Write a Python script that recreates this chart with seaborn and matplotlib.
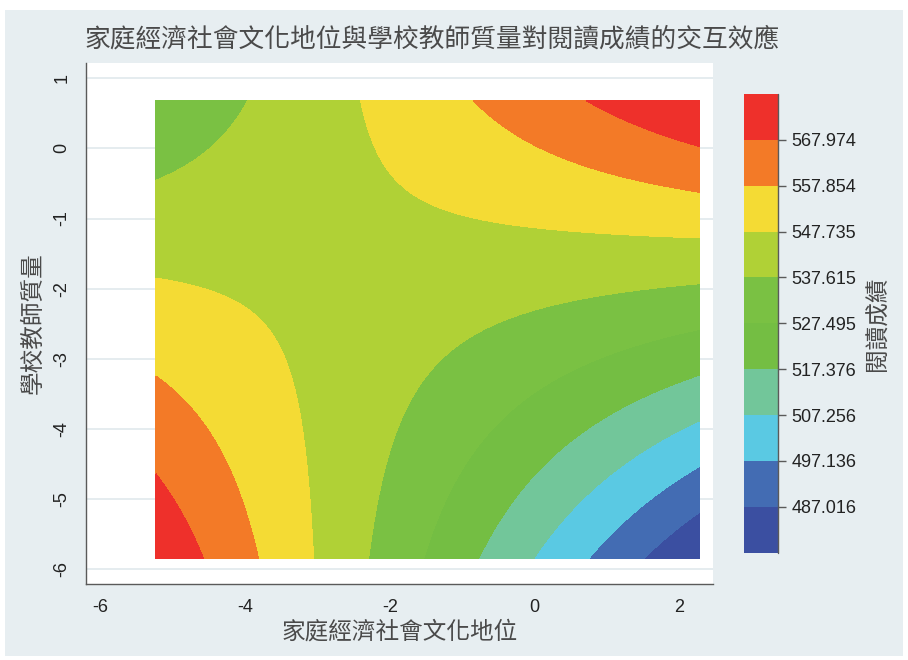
import numpy as np
import matplotlib
matplotlib.use("Agg")
import matplotlib.pyplot as plt
import seaborn as sns
from matplotlib.patches import Rectangle

# ---------------- data ----------------
title = "家庭經濟社會文化地位與學校教師質量對閱讀成績的交互效應"
x_label = "家庭經濟社會文化地位"
y_label = "學校教師質量"
cbar_label = "閱讀成績"

ses_range = [-5.236, 2.278]      # extent of the predicted surface on x
tq_range = [-5.847, 0.680]       # extent of the predicted surface on y
# predicted reading score at the four corners of the surface
score_bottom = [576.70, 476.90]  # (x min, x max) at y min
score_top = [529.40, 578.09]     # (x min, x max) at y max
score_min, score_max = 476.897, 578.093
level_ticks = [487.016, 497.136, 507.256, 517.376, 527.495,
               537.615, 547.735, 557.854, 567.974]
x_ticks = [-6, -4, -2, 0, 2]
y_ticks = [1, 0, -1, -2, -3, -4, -5, -6]
level_colors = ["#3B4FA1", "#436CB3", "#5AC9E3", "#72C69A", "#74BE43",
                "#7AC143", "#B0D136", "#F4DB34", "#F37A27", "#EE302B"]

# ---------------- style ----------------
sns.set_theme(style="white")
plt.rcParams['font.family'] = ['Liberation Sans', 'Noto Sans CJK TC', 'DejaVu Sans']
cjk = ['Noto Sans CJK TC', 'DejaVu Sans']

W, H = 908, 660
fig = plt.figure(figsize=(W / 100, H / 100), dpi=100)
fig.patch.set_facecolor("white")
bg = "#E7EEF1"
fig.patches.append(Rectangle((5 / W, 4 / H), (W - 10) / W, (H - 14) / H,
                             transform=fig.transFigure, facecolor=bg,
                             edgecolor="none", zorder=-10))

ax = fig.add_axes([86 / W, 1 - 584 / H, (712.7 - 86) / W, (584 - 63.3) / H])
ax.set_facecolor("white")

# surface of predicted scores (bilinear in the two predictors: interaction model)
xs = np.linspace(ses_range[0], ses_range[1], 301)
ys = np.linspace(tq_range[0], tq_range[1], 301)
X, Y = np.meshgrid(xs, ys)
u = (X - ses_range[0]) / (ses_range[1] - ses_range[0])
v = (Y - tq_range[0]) / (tq_range[1] - tq_range[0])
Z = ((1 - u) * (1 - v) * score_bottom[0] + u * (1 - v) * score_bottom[1]
     + (1 - u) * v * score_top[0] + u * v * score_top[1])

levels = [score_min] + level_ticks + [score_max]
cf = ax.contourf(X, Y, Z, levels=levels,
                 colors=sns.color_palette(level_colors), zorder=2)

ax.set_xlim(-6.204, 2.465)
ax.set_ylim(-6.214, 1.214)
ax.set_xticks(x_ticks)
ax.set_yticks(y_ticks)
ax.set_xticklabels([str(t) for t in x_ticks])
ax.set_yticklabels([str(t) for t in y_ticks], rotation=90, va="center")
ax.yaxis.grid(True, color="#E3EBEE", lw=1.3, zorder=0)
ax.xaxis.grid(False)
ax.set_axisbelow(True)
for s in ["top", "right"]:
    ax.spines[s].set_visible(False)
for s in ["left", "bottom"]:
    ax.spines[s].set_color("#5A5A5A")
    ax.spines[s].set_linewidth(1.0)
ax.tick_params(axis="both", direction="out", length=6, width=1.0,
               color="#5A5A5A", labelsize=13, labelcolor="#222222", pad=5)

# colorbar
cax = fig.add_axes([744 / W, 1 - 552.7 / H, (777.7 - 744) / W, (552.7 - 94) / H])
cb = fig.colorbar(cf, cax=cax, ticks=level_ticks)
cb.ax.set_yticklabels([f"{t:.3f}" for t in level_ticks])
cb.outline.set_visible(False)
cax.plot([1, 1], [0, 1], transform=cax.transAxes, color="#5A5A5A", lw=1.0,
         clip_on=False, zorder=5)
cax.tick_params(axis="y", direction="out", length=6, width=1.0,
                color="#5A5A5A", labelsize=13, labelcolor="#222222", pad=4)

# texts
fig.text(84 / W, 1 - 40 / H, title, family=cjk, fontsize=18.5,
         color="#4A4A4A", ha="left", va="center")
fig.text(399.4 / W, 1 - 632 / H, x_label, family=cjk, fontsize=17,
         color="#4A4A4A", ha="center", va="center")
fig.text(33 / W, 1 - 323.5 / H, y_label, family=cjk, fontsize=17,
         color="#4A4A4A", ha="center", va="center", rotation=90)
fig.text(878 / W, 1 - 323.4 / H, cbar_label, family=cjk, fontsize=17,
         color="#4A4A4A", ha="center", va="center", rotation=90)

fig.savefig("out.png", dpi=100, facecolor=fig.get_facecolor())
